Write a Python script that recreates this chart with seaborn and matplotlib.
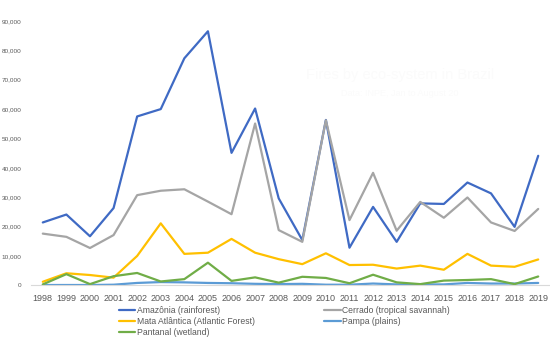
import matplotlib
matplotlib.use("Agg")
import matplotlib.pyplot as plt
import seaborn as sns
import pandas as pd
from matplotlib.ticker import FuncFormatter

years = list(range(1998, 2020))
amazonia = [21400, 24100, 16700, 26300, 57500, 60000, 77300, 86500, 45100, 60200,
            29600, 15400, 56300, 12800, 26700, 14800, 27900, 27700, 35000, 31300, 19900, 44100]
cerrado = [17600, 16500, 12700, 17100, 30700, 32200, 32700, 28500, 24200, 55100,
           18800, 14800, 56200, 22200, 38300, 18600, 28400, 23000, 29900, 21400, 18500, 26000]
mata = [1200, 4100, 3500, 2600, 10000, 21100, 10700, 11100, 15800, 11100,
        8900, 7200, 10900, 6900, 7000, 5700, 6700, 5300, 10700, 6700, 6300, 8800]
pampa = [100, 100, 100, 200, 800, 1100, 1000, 800, 700, 500,
         400, 500, 200, 200, 600, 300, 300, 300, 800, 600, 600, 800]
pantanal = [300, 3800, 400, 3100, 4200, 1300, 2100, 7700, 1500, 2700,
            900, 2900, 2500, 700, 3600, 1000, 400, 1600, 1800, 2100, 400, 3000]

names = ["Amazônia (rainforest)", "Cerrado (tropical savannah)",
         "Mata Atlântica (Atlantic Forest)", "Pampa (plains)", "Pantanal (wetland)"]
series = [amazonia, cerrado, mata, pampa, pantanal]
colors = ["#3F6AC4", "#A5A5A5", "#FFC000", "#5B9BD5", "#70AD47"]

rows = []
for n, s in zip(names, series):
    for y, v in zip(years, s):
        rows.append({"year": y, "fires": v, "ecosystem": n})
df = pd.DataFrame(rows)

sns.set_theme(style="white")
plt.rcParams["font.family"] = ["Liberation Sans", "DejaVu Sans"]

fig = plt.figure(figsize=(5.5, 3.38), dpi=100)
ax = fig.add_axes([31 / 550, (338 - 285.3) / 338, 519 / 550, (285.3 - 21) / 338])

sns.lineplot(data=df, x="year", y="fires", hue="ecosystem", hue_order=names,
             palette=colors, linewidth=1.6, ax=ax, legend=False, sort=False)

ax.set_xlim(1997.5, 2019.5)
ax.set_ylim(0, 90000)
ax.set_xticks(years)
ax.set_xticklabels([str(y) for y in years])
ax.set_yticks(range(0, 90001, 10000))
ax.yaxis.set_major_formatter(FuncFormatter(lambda v, p: f"{int(v):,}"))
ax.tick_params(axis="x", labelsize=6.5, colors="#595959", length=0, pad=6)
ax.tick_params(axis="y", labelsize=4.6, colors="#595959", length=0, pad=7)
ax.set_xlabel("")
ax.set_ylabel("")
for side in ["top", "right", "left"]:
    ax.spines[side].set_visible(False)
ax.spines["bottom"].set_color("#D9D9D9")
ax.spines["bottom"].set_linewidth(0.8)
ax.grid(False)

handles = {}
for line, n in zip(ax.get_lines(), names):
    handles[n] = line
order = [names[0], names[2], names[4], names[1], names[3]]
leg = fig.legend([handles[n] for n in order], order, ncol=2, frameon=False,
                 loc="upper left", bbox_to_anchor=(119 / 550, 1 - 306 / 338),
                 fontsize=6.2, handlelength=1.9, handletextpad=0.15,
                 columnspacing=8.1, labelspacing=0.22, borderaxespad=0, borderpad=0)
for t in leg.get_texts():
    t.set_color("#595959")

fig.text(400 / 550, 1 - 75 / 338, "Fires by eco-system in Brazil", ha="center", va="center",
         fontsize=10.5, color="#FBFBFB")
fig.text(400 / 550, 1 - 93 / 338, "Data: INPE, Jan to August 20", ha="center", va="center",
         fontsize=6.5, color="#FBFBFB")

fig.savefig("out.png", dpi=100)
